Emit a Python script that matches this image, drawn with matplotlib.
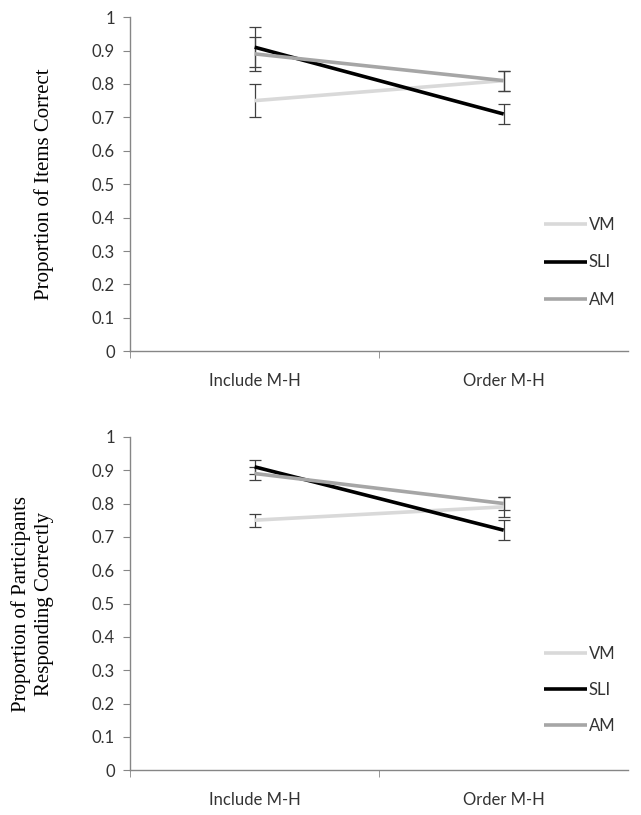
import numpy as np
import matplotlib.pyplot as plt
from matplotlib.ticker import FormatStrFormatter, FixedLocator

categories = ['Include M-H', 'Order M-H']
groups = ['VM', 'SLI', 'AM']

# top panel: proportion of items correct
items_mean = {'VM': [0.75, 0.81], 'SLI': [0.91, 0.71], 'AM': [0.89, 0.81]}
items_err = {'VM': [0.05, 0.03], 'SLI': [0.06, 0.03], 'AM': [0.05, 0.03]}

# bottom panel: proportion of participants responding correctly
parts_mean = {'VM': [0.75, 0.79], 'SLI': [0.91, 0.72], 'AM': [0.89, 0.80]}
parts_err = {'VM': [0.02, 0.03], 'SLI': [0.02, 0.03], 'AM': [0.02, 0.02]}

colors = {'VM': '#d9d9d9', 'SLI': '#000000', 'AM': '#a6a6a6'}
axis_color = '#868686'
tick_font = 'Lato'


def draw_panel(ax, means, errs, ylabel, leg_y, leg_space, pad):
    x = np.arange(len(categories)) + 0.5
    for g in groups:
        ax.errorbar(x, means[g], yerr=errs[g], fmt='none', ecolor='#404040',
                    elinewidth=0.9, capsize=4, capthick=0.9, zorder=2)
    for g in groups:
        ax.plot(x, means[g], color=colors[g], lw=2.6, label=g, zorder=3,
                solid_capstyle='butt')
    ax.set_xlim(0, len(categories))
    ax.set_ylim(0, 1)
    ax.set_yticks(np.arange(0, 1.01, 0.1))
    ax.yaxis.set_major_formatter(FormatStrFormatter('%g'))
    ax.set_xticks(x)
    ax.set_xticklabels(categories)
    ax.xaxis.set_minor_locator(FixedLocator([0, 1]))
    ax.tick_params(axis='x', which='major', length=0, pad=16)
    ax.tick_params(axis='x', which='minor', length=5, color=axis_color, direction='out')
    ax.tick_params(axis='y', length=5, color=axis_color, direction='out', pad=6)
    for lab in ax.get_xticklabels() + ax.get_yticklabels():
        lab.set_fontfamily(tick_font)
        lab.set_fontsize(12)
        lab.set_color('#333333')
    for s in ['top', 'right']:
        ax.spines[s].set_visible(False)
    for s in ['left', 'bottom']:
        ax.spines[s].set_color(axis_color)
        ax.spines[s].set_linewidth(1.0)
    ax.set_ylabel(ylabel, family='Liberation Serif', fontsize=15, labelpad=pad,
                  linespacing=1.3)
    leg = ax.legend(loc='center left', bbox_to_anchor=(0.8, leg_y), frameon=False,
                    handlelength=2.6, handletextpad=0.1, labelspacing=leg_space,
                    prop={'family': tick_font, 'size': 12})
    for t in leg.get_texts():
        t.set_color('#333333')


fig = plt.figure(figsize=(6.41, 8.15), dpi=100)
ax1 = fig.add_axes([0.203, 0.569, 0.777, 0.41])
ax2 = fig.add_axes([0.203, 0.055, 0.777, 0.409])

draw_panel(ax1, items_mean, items_err, 'Proportion of Items Correct', 0.266, 1.3, 27)
draw_panel(ax2, parts_mean, parts_err,
           'Proportion of Participants\nResponding Correctly', 0.24, 1.2, 27)

fig.savefig('out.png', dpi=100)
